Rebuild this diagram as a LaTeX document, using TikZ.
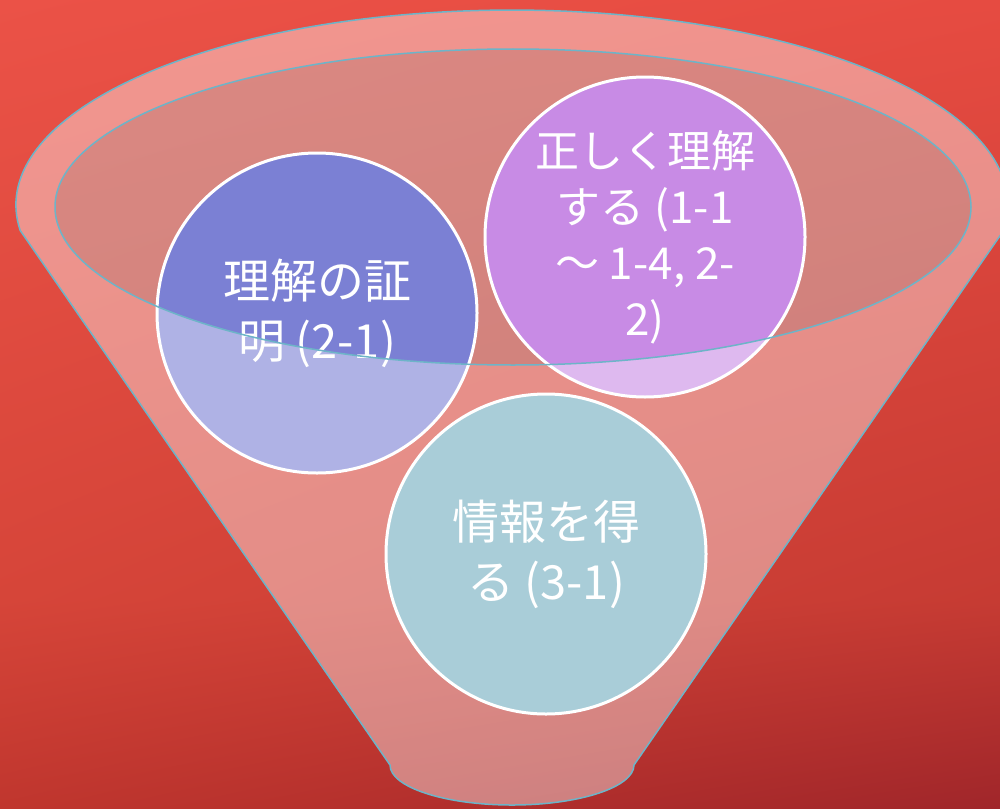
\documentclass[tikz,border=0pt]{standalone}
\usepackage{fontspec}
\setmainfont{Noto Sans CJK JP}
\usetikzlibrary{shadings}
\definecolor{bgUL}{HTML}{EB5247}
\definecolor{bgUR}{HTML}{E64B41}
\definecolor{bgML}{HTML}{D64539}
\definecolor{bgMR}{HTML}{C63B33}
\definecolor{bgLL}{HTML}{C0362E}
\definecolor{bgLR}{HTML}{A0262A}
\definecolor{rim}{HTML}{6DB4C8}
\definecolor{innerfill}{HTML}{CBCBCB}
\definecolor{cblue}{HTML}{7B80D4}
\definecolor{cpurple}{HTML}{C88BE5}
\definecolor{cteal}{HTML}{70ACBE}
\tikzset{
  bubble/.style={circle, draw=white, line width=3pt, minimum size=320pt, inner sep=0pt,
    text=white, align=center, font=\fontsize{47}{60}\selectfont},
  rimline/.style={draw=rim, line width=1.5pt},
}
\begin{document}
\begin{tikzpicture}[x=1pt,y=-1pt]
\useasboundingbox (0,0) rectangle (1000,808);
\shade[upper left=bgUL, upper right=bgUR, lower left=bgML, lower right=bgMR] (0,0) rectangle (1000,600.5);
\shade[upper left=bgML, upper right=bgMR, lower left=bgLL, lower right=bgLR] (0,600) rectangle (1000,808);
% inside of funnel mouth
\path[fill=innerfill, fill opacity=0.46] (513,207) ellipse [x radius=458, y radius=158];
% bubbles
\node[bubble, fill=cblue] (c1) at (317,313) {理解の証\\明 (2-1)};
\node[bubble, fill=cpurple, font=\fontsize{44}{56}\selectfont] (c2) at (645,237) {正しく理解\\する (1-1\\〜 1-4, 2-\\2)};
\node[bubble, fill=cteal] (c3) at (546,554) {情報を得\\る (3-1)};
% funnel body (translucent, with mouth hole)
\path[fill=white, fill opacity=0.4, even odd rule]
  (20.2,230.5) arc[start angle=172.5, end angle=367.5, x radius=496, y radius=195]
  -- (634,765) arc[start angle=0, end angle=180, x radius=122, y radius=40] -- cycle
  (513,207) ellipse [x radius=458, y radius=158];
% outlines
\path[rimline]
  (20.2,230.5) arc[start angle=172.5, end angle=367.5, x radius=496, y radius=195]
  -- (634,765) arc[start angle=0, end angle=180, x radius=122, y radius=40] -- cycle;
\path[rimline] (513,207) ellipse [x radius=458, y radius=158];
\end{tikzpicture}
\end{document}
